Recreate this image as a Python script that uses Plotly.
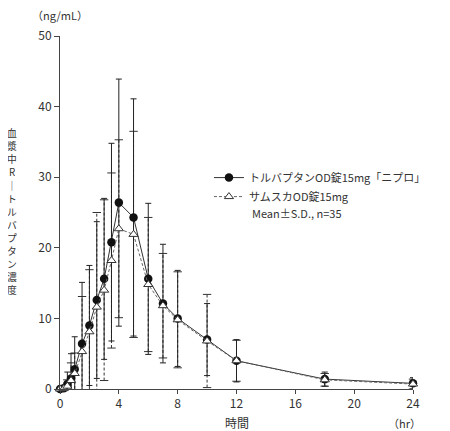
import plotly.graph_objects as go

# ---- data ----
times = [0, 0.25, 0.5, 0.75, 1, 1.5, 2, 2.5, 3, 3.5, 4, 5, 6, 7, 8, 10, 12, 18, 24]
test_mean = [0, 0.1, 0.7, 1.5, 2.8, 6.4, 9.0, 12.6, 15.6, 20.8, 26.4, 24.3, 15.6, 12.1, 10.0, 7.0, 4.0, 1.4, 0.8]
test_sd = [0, 0.3, 1.7, 3.5, 4.6, 8.7, 8.5, 11.1, 11.4, 14.0, 17.5, 16.8, 10.7, 8.4, 6.8, 5.1, 3.0, 1.0, 0.8]
ref_mean = [0, 0.05, 0.4, 1.2, 2.2, 5.3, 8.1, 11.6, 14.0, 18.2, 22.7, 21.9, 14.8, 11.8, 9.8, 6.8, 4.0, 1.3, 0.7]
ref_sd = [0, 0.2, 0.9, 2.5, 2.9, 7.8, 8.8, 13.4, 12.8, 12.4, 12.6, 14.6, 9.5, 7.4, 6.8, 6.6, 2.9, 0.9, 0.7]

test_name = "トルバプタンOD錠15mg「ニプロ」"
ref_name = "サムスカOD錠15mg"
note_text = "Mean±S.D., n=35"
x_ticks = [0, 4, 8, 12, 16, 20, 24]
y_ticks = [0, 10, 20, 30, 40, 50]
x_title = "時間"
x_unit = "（hr）"
y_unit = "（ng/mL）"
y_title_chars = ["血", "漿", "中", "R", "｜", "ト", "ル", "バ", "プ", "タ", "ン", "濃", "度"]

FONT = "Noto Sans CJK JP"
TXT = "#333333"
EB = "#333333"

# dashed error bars for the reference product, built from mean ± SD
eb_x, eb_y, cap_x, cap_y = [], [], [], []
for t, m, s in zip(times, ref_mean, ref_sd):
    if s <= 0:
        continue
    eb_x += [t, t, None]
    eb_y += [m - s, m + s, None]
    cap_x += [t, t]
    cap_y += [m - s, m + s]

fig = go.Figure()

fig.add_trace(go.Scatter(
    x=eb_x, y=eb_y, mode="lines", showlegend=False, hoverinfo="skip",
    line=dict(color=EB, width=1, dash="3px,2px"),
))
fig.add_trace(go.Scatter(
    x=cap_x, y=cap_y, mode="markers", showlegend=False, hoverinfo="skip",
    marker=dict(symbol="line-ew-open", size=6, color=EB, line=dict(color=EB, width=1)),
))

fig.add_trace(go.Scatter(
    x=times, y=test_mean, name=test_name, mode="lines+markers", legendrank=1,
    cliponaxis=False,
    line=dict(color="#333333", width=1),
    marker=dict(symbol="circle", size=8.5, color="#111111"),
    error_y=dict(type="data", array=test_sd, visible=True, color="#222222",
                 thickness=1, width=3),
))
fig.add_trace(go.Scatter(
    x=times, y=ref_mean, name=ref_name, mode="lines+markers", legendrank=2,
    cliponaxis=False,
    line=dict(color="#666666", width=1, dash="3px,2px"),
    marker=dict(symbol="triangle-up", size=8, color="white",
                line=dict(color="#333333", width=1)),
))

annotations = [
    dict(text=y_unit, x=0.0, y=1.059, xref="paper", yref="paper",
         showarrow=False, xanchor="center", yanchor="middle",
         font=dict(family=FONT, size=11, color=TXT)),
    dict(text=x_title, x=0.502, y=-0.095, xref="paper", yref="paper",
         showarrow=False, xanchor="center", yanchor="middle",
         font=dict(family=FONT, size=12, color=TXT)),
    dict(text=x_unit, x=0.975, y=-0.095, xref="paper", yref="paper",
         showarrow=False, xanchor="center", yanchor="middle",
         font=dict(family=FONT, size=11, color=TXT)),
    dict(text=note_text, x=0.537, y=0.50, xref="paper", yref="paper",
         showarrow=False, xanchor="left", yanchor="middle",
         font=dict(family=FONT, size=11, color=TXT)),
]

# vertical (upright) y-axis title, one character per line
n_chars = len(y_title_chars)
pitch = 13.1 / 353.0
center = 0.502
for i, ch in enumerate(y_title_chars):
    annotations.append(dict(
        text=ch, x=-0.136, y=center + (n_chars - 1) / 2 * pitch - i * pitch,
        xref="paper", yref="paper", showarrow=False, height=12,
        xanchor="center", yanchor="middle", borderpad=0,
        font=dict(family=FONT, size=9.8, color=TXT)))

# the page places the figure 8px from the top-left corner of the window
fig.update_layout(
    width=442, height=423,
    margin=dict(l=52, r=37, t=28, b=42),
    paper_bgcolor="white", plot_bgcolor="white",
    font=dict(family=FONT, size=11, color=TXT),
    showlegend=True,
    legend=dict(x=0.422, y=0.64, xanchor="left", yanchor="top",
                bgcolor="rgba(0,0,0,0)", itemwidth=30,
                font=dict(family=FONT, size=11, color=TXT),
                tracegroupgap=0),
    annotations=annotations,
    xaxis=dict(range=[0, 24], tickvals=x_ticks, showgrid=False, zeroline=False,
               showline=True, linecolor="#444444", linewidth=1,
               ticks="outside", ticklen=4, tickcolor="#444444",
               tickfont=dict(family=FONT, size=12, color=TXT)),
    yaxis=dict(range=[0, 50], tickvals=y_ticks, showgrid=False, zeroline=False,
               showline=True, linecolor="#444444", linewidth=1,
               ticks="outside", ticklen=5, tickcolor="#444444",
               tickfont=dict(family=FONT, size=12, color=TXT)),
)

fig.write_html("out.html")
